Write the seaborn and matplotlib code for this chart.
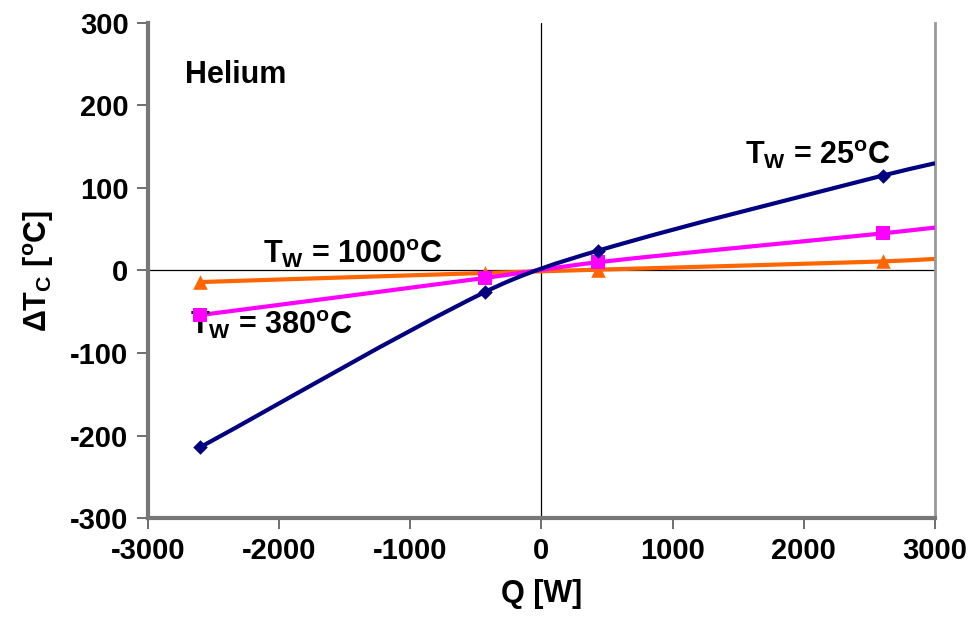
import numpy as np
import matplotlib
matplotlib.use("Agg")
import matplotlib.pyplot as plt
from matplotlib.path import Path
from matplotlib.patches import PathPatch
import pandas as pd
import seaborn as sns

# Measured heat load Q [W] and core temperature change dT_C [°C]
q_points = [-2600, -430, 430, 2600]
dt_25 = [-214, -26, 24, 115]
dt_380 = [-54, -9, 10, 45]
dt_1000 = [-14, -3, 1, 11]

# Where each fitted curve leaves the plot at the right edge
q_edge = 3000
edge_25 = 130
edge_380 = 52
edge_1000 = 14

x_ticks = [-3000, -2000, -1000, 0, 1000, 2000, 3000]
y_ticks = [-300, -200, -100, 0, 100, 200, 300]

sns.set_theme(style="white")
plt.rcParams["font.family"] = ["Liberation Sans", "DejaVu Sans"]
plt.rcParams["font.weight"] = "bold"
plt.rcParams["text.color"] = "black"
plt.rcParams["axes.labelcolor"] = "black"
plt.rcParams["xtick.color"] = "black"
plt.rcParams["ytick.color"] = "black"
plt.rcParams["mathtext.fontset"] = "custom"
plt.rcParams["mathtext.rm"] = "Liberation Sans:bold"
plt.rcParams["mathtext.it"] = "Liberation Sans:bold"
plt.rcParams["mathtext.bf"] = "Liberation Sans:bold"


def smooth_path(xs, ys):
    """Piecewise cubic Bezier path (Hermite in x) through the given points."""
    x = np.asarray(xs, dtype=float)
    y = np.asarray(ys, dtype=float)
    n = len(x)
    slopes = np.empty(n)
    slopes[0] = (y[1] - y[0]) / (x[1] - x[0])
    slopes[-1] = (y[-1] - y[-2]) / (x[-1] - x[-2])
    for i in range(1, n - 1):
        slopes[i] = (y[i + 1] - y[i - 1]) / (x[i + 1] - x[i - 1])
    verts = [(x[0], y[0])]
    codes = [Path.MOVETO]
    for i in range(n - 1):
        h = x[i + 1] - x[i]
        verts += [(x[i] + h / 3, y[i] + slopes[i] * h / 3),
                  (x[i + 1] - h / 3, y[i + 1] - slopes[i + 1] * h / 3),
                  (x[i + 1], y[i + 1])]
        codes += [Path.CURVE4] * 3
    return Path(verts, codes)


fig = plt.figure(figsize=(9.76, 6.4), dpi=100)
ax = fig.add_axes([0.1516, 0.1906, 0.8064, 0.7735])

ax.axhline(0, color="black", lw=0.9, zorder=1)
ax.axvline(0, color="black", lw=0.9, zorder=1)

series = [
    ("1000", dt_1000, edge_1000, "#FF6600", "^", 110),
    ("380", dt_380, edge_380, "#FF00FF", "s", 95),
    ("25", dt_25, edge_25, "#000080", "D", 55),
]

for i, (name, vals, edge, color, marker, msize) in enumerate(series):
    path = smooth_path(q_points + [q_edge], vals + [edge])
    ax.add_patch(PathPatch(path, facecolor="none", edgecolor=color, lw=3.0,
                           zorder=2 + i, capstyle="butt", joinstyle="round"))
    df = pd.DataFrame({"Q": q_points, "dT": vals})
    sns.scatterplot(data=df, x="Q", y="dT", marker=marker, s=msize, color=color,
                    edgecolor=color, linewidth=0, ax=ax, zorder=2.5 + i,
                    legend=False)

ax.set_xlim(-3000, 3000)
ax.set_ylim(-300, 300)
ax.set_xticks(x_ticks)
ax.set_yticks(y_ticks)
ax.set_xticklabels([str(v) for v in x_ticks], fontsize=21, fontweight="bold",
                   color="black")
ax.set_yticklabels([str(v) for v in y_ticks], fontsize=21, fontweight="bold",
                   color="black")
ax.tick_params(axis="both", direction="out", length=8, width=1.2,
               color="#555555", pad=6, left=True, bottom=True)

for side in ["left", "bottom"]:
    ax.spines[side].set_color("#777777")
    ax.spines[side].set_linewidth(3)
ax.spines["right"].set_color("#999999")
ax.spines["right"].set_linewidth(2)
ax.spines["top"].set_visible(False)

ax.set_xlabel("Q [W]", fontsize=22, fontweight="bold", labelpad=10,
              color="black")
ax.set_ylabel(r"$\Delta$T$_{C}$ [$^{o}$C]", fontsize=22, fontweight="bold",
              labelpad=10, color="black")

ax.text(-2720, 237, "Helium", fontsize=22, fontweight="bold", va="center",
        ha="left", color="black")
ax.text(1550, 140, r"T$_{W}$ = 25$^{o}$C", fontsize=22, fontweight="bold",
        va="center", ha="left", color="black")
ax.text(-2120, 20, r"T$_{W}$ = 1000$^{o}$C", fontsize=22, fontweight="bold",
        va="center", ha="left", color="black")
ax.text(-2680, -66, r"T$_{W}$ = 380$^{o}$C", fontsize=22, fontweight="bold",
        va="center", ha="left", color="black")

fig.savefig("out.png", dpi=100)
